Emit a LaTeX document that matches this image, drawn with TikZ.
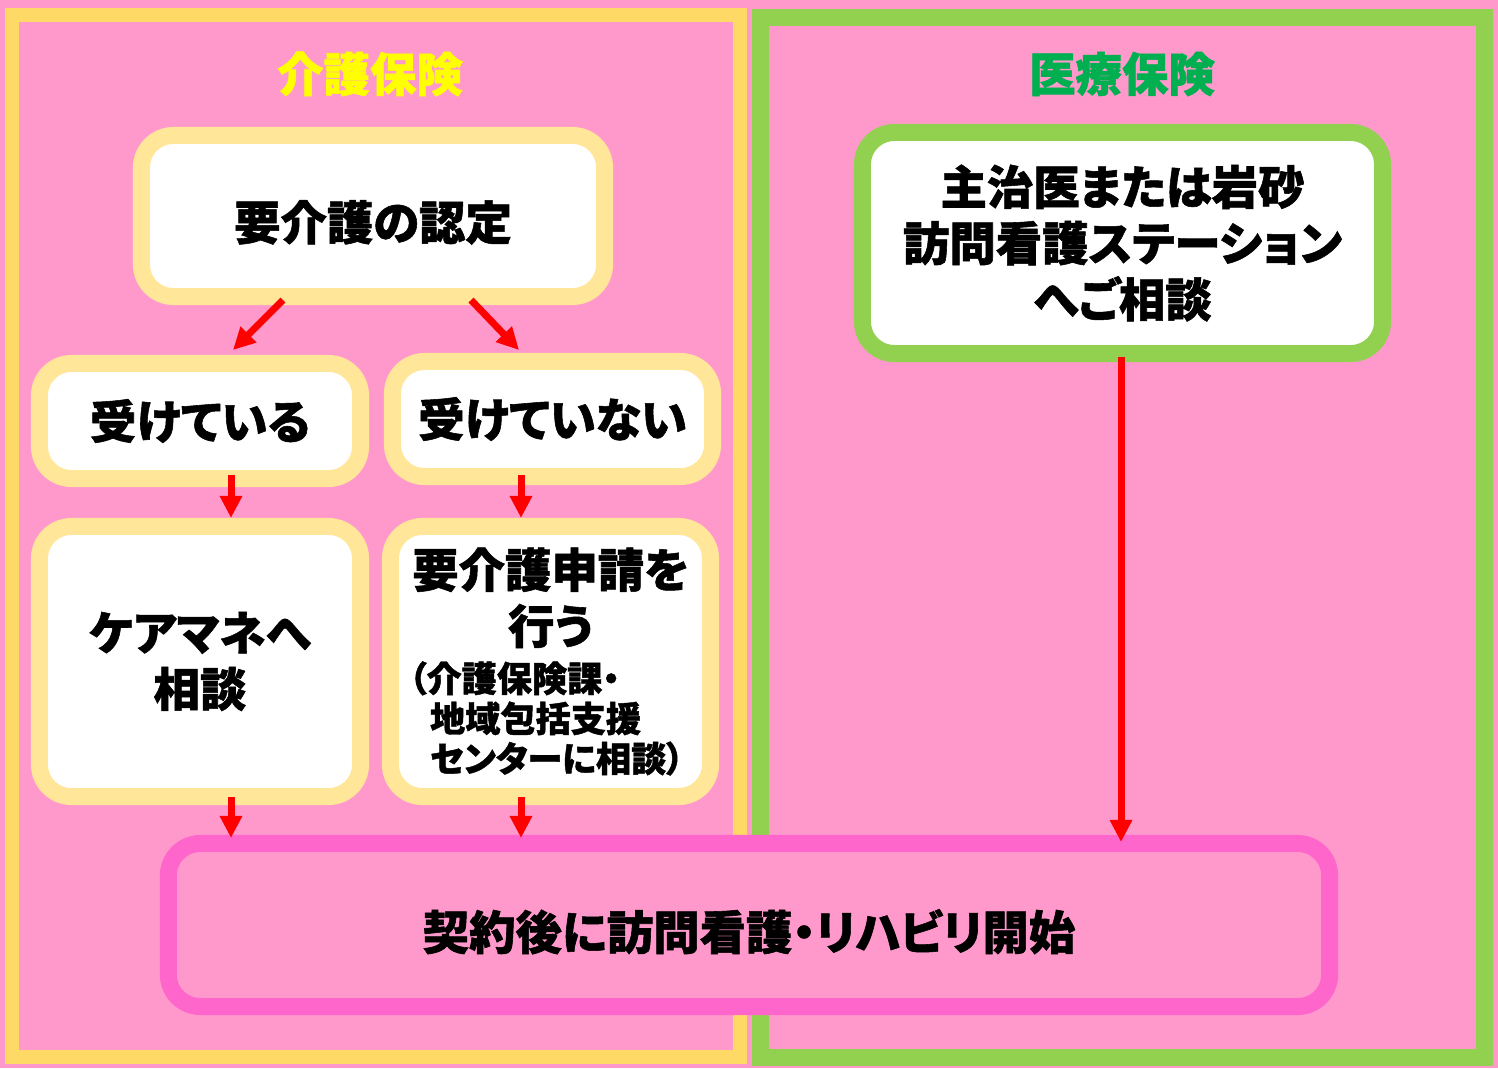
\documentclass[tikz,border=0pt]{standalone}
\usepackage{fontspec}
\usepackage{xcolor}
\usepackage{tikz}
\usetikzlibrary{arrows.meta, positioning}

\newfontfamily\jpfont{Noto Sans CJK JP}[BoldFont={Noto Sans CJK JP Black}, BoldFeatures={FakeBold=1.2}, CharacterWidth=AlternateProportional]

\definecolor{bgpink}{HTML}{FF99CC}
\definecolor{kaigoyellow}{HTML}{FFD966}
\definecolor{iryougreen}{HTML}{92D050}
\definecolor{cream}{HTML}{FFE699}
\definecolor{titleyellow}{HTML}{FFFF00}
\definecolor{titlegreen}{HTML}{00B050}
\definecolor{startpink}{HTML}{FF66CC}

\begin{document}
\begin{tikzpicture}[
        x=0.025cm, y=-0.025cm,
        hokenframe/.style={draw, fill=bgpink, inner sep=0, minimum width=18.2cm, minimum height=26.05cm},
        hokentitle/.style={font=\jpfont\bfseries\fontsize{33}{40}\selectfont},
        kaigobox/.style={draw=cream, fill=white, line width=0.425cm, rounded corners=0.8cm, inner sep=0,
            align=center, font=\jpfont\bfseries\fontsize{33}{40}\selectfont},
        iryoubox/.style={kaigobox, draw=iryougreen},
        startbox/.style={kaigobox, draw=startpink, fill=bgpink},
        redarrow/.style={draw=red, line width=0.175cm, -{Triangle[width=0.53cm, length=0.55cm]}}
    ]
        \fill[bgpink] (0,0) rectangle (1498,1068);

        % Frames
            \node[hokenframe, draw=kaigoyellow, line width=0.35cm] (kaigoframe) at (376,536) {};
            \node[hokenframe, draw=iryougreen, line width=0.425cm, minimum width=18.1cm, minimum height=26cm] (iryouframe) at (1122.5,537.5) {};
            \node[hokentitle, text=titleyellow] (kaigotitle) at (370,74) {介護保険};
            \node[hokentitle, text=titlegreen] (iryoutitle) at (1122,74) {医療保険};

        % Nodes
            \node[kaigobox, minimum width=11.575cm, minimum height=4.025cm, text height=34pt, text depth=0pt] (nintei) at (373,216) {要介護の認定};
            \node[kaigobox, minimum width=8.025cm, minimum height=2.875cm] (uketeiru) at (200,421) {受けている};
            \node[kaigobox, minimum width=8cm, minimum height=2.875cm] (uketeinai) at (552.5,419) {受けていない};
            \node[kaigobox, minimum width=8.025cm, minimum height=6.75cm] (keamane) at (200,661.5) {ケアマネへ\\相談};
            \node[kaigobox, minimum width=8cm, minimum height=6.75cm, text width=7.6cm, align=left] (shinsei) at (550.5,661.5)
                {{\centering 要介護申請を\\行う\par}\vspace{0.2cm}
                 {\fontsize{25}{28.5}\selectfont \hspace*{0.3em}（介護保険課・\\\hspace*{0.9em}地域包括支援\\\hspace*{0.9em}センターに相談）\par}};
            \node[iryoubox, minimum width=13cm, minimum height=5.525cm] (shujii) at (1122.5,243)
                {主治医または岩砂\\訪問看護ステーション\\へご相談};
            \node[startbox, minimum width=29.025cm, minimum height=4.075cm, text height=35pt, text depth=0pt] (kaishi) at (749,925) {契約後に訪問看護・リハビリ開始};

        % Arrows
            \draw[redarrow] ([shift={(-90,-5)}]nintei.south) -- ([shift={(33,-5)}]uketeiru.north);
            \draw[redarrow] ([shift={(98,-5)}]nintei.south) -- ([shift={(-33.5,-3)}]uketeinai.north);
            \draw[redarrow] ([shift={(31,-12)}]uketeiru.south) -- ([shift={(31,0)}]keamane.north);
            \draw[redarrow] ([shift={(-31.5,-10)}]uketeinai.south) -- ([shift={(-29.5,0)}]shinsei.north);
            \draw[redarrow] ([shift={(31,-8)}]keamane.south) -- ([shift={(31,3)}]keamane.south |- kaishi.north);
            \draw[redarrow] ([shift={(-29.5,-8)}]shinsei.south) -- ([shift={(-29.5,3)}]shinsei.south |- kaishi.north);
            \draw[redarrow] ([shift={(-1.5,-5)}]shujii.south) -- ([shift={(-1.5,7)}]shujii.south |- kaishi.north);
\end{tikzpicture}
\end{document}
